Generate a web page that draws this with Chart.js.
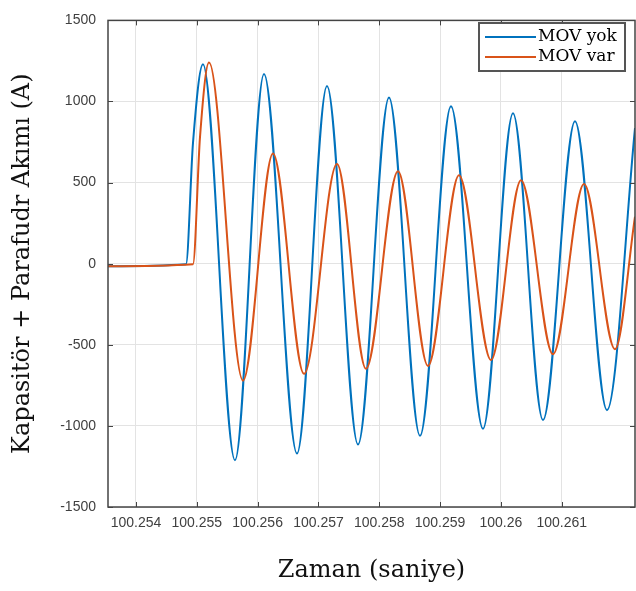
<!DOCTYPE html>
<html>
<head>
<meta charset="utf-8">
<script src="https://cdn.jsdelivr.net/npm/chart.js@4"></script>
<style>
    html, body { margin: 0; padding: 0; background: #fff; }
    #wrap { width: 636px; height: 591px; }
</style>
</head>
<body>
<div id="wrap"><canvas id="chart" width="636" height="591"></canvas></div>
<script>
// time axis (s) and current values (A)
const movYokTime = [100.2535396, 100.2548222, 100.2549373, 100.2551017, 100.2556279, 100.2561048,
    100.2566474, 100.2571407, 100.2576505, 100.2581602, 100.2586700, 100.2591797, 100.2597059,
    100.2601992, 100.2606926, 100.2612187, 100.2617449, 100.2622054];
const movYokValues = [-15, -3, 745, 1230, -1212, 1170, -1170, 1095, -1115, 1024, -1061, 970, -1018,
    927, -964, 879, -903, 836];

const movVarTime = [100.2535396, 100.2549373, 100.2550524, 100.2552004, 100.2557595, 100.2562528,
    100.2567625, 100.2573052, 100.2577820, 100.2583082, 100.2588015, 100.2593113, 100.2598375,
    100.2603308, 100.2608570, 100.2613667, 100.2618765, 100.2622054];
const movVarValues = [-15, -3, 780, 1240, -721, 679, -679, 615, -648, 570, -630, 545, -594,
    515, -558, 491, -527, 290];

const xTickValues = [100.254, 100.255, 100.256, 100.257, 100.258, 100.259, 100.26, 100.261];
const xTickLabels = ['100.254', '100.255', '100.256', '100.257', '100.258', '100.259', '100.26', '100.261'];
const yTickValues = [-1500, -1000, -500, 0, 500, 1000, 1500];

const seriesNames = ['MOV yok', 'MOV var'];
const seriesColors = ['#0072BD', '#D95319'];

const toPoints = (times, values) => times.map((t, i) => ({x: t, y: values[i]}));

// box round the plot, inward ticks and the legend inside the plot
const matlabFrame = {
    id: 'matlabFrame',
    afterDraw(chart) {
        const {ctx, chartArea: a, scales: {x, y}} = chart;
        ctx.save();
        ctx.strokeStyle = '#444';
        ctx.lineWidth = 1;
        ctx.beginPath();
        x.ticks.forEach(t => {
            const px = Math.round(x.getPixelForValue(t.value)) + 0.5;
            ctx.moveTo(px, a.bottom); ctx.lineTo(px, a.bottom - 5);
            ctx.moveTo(px, a.top); ctx.lineTo(px, a.top + 5);
        });
        y.ticks.forEach(t => {
            const py = Math.round(y.getPixelForValue(t.value)) + 0.5;
            ctx.moveTo(a.left, py); ctx.lineTo(a.left + 5, py);
            ctx.moveTo(a.right, py); ctx.lineTo(a.right - 5, py);
        });
        ctx.stroke();
        ctx.lineWidth = 1.5;
        ctx.strokeRect(a.left, a.top, a.right - a.left, a.bottom - a.top);

        // legend
        const lx = 479, ly = 23, lw = 146, lh = 48;
        ctx.fillStyle = '#fff';
        ctx.fillRect(lx, ly, lw, lh);
        ctx.lineWidth = 2;
        ctx.strokeStyle = '#555';
        ctx.strokeRect(lx, ly, lw, lh);
        ctx.font = '17px "DejaVu Serif"';
        ctx.textBaseline = 'middle';
        ctx.textAlign = 'left';
        seriesNames.forEach((name, i) => {
            const rowY = ly + 14 + i * 20;
            ctx.strokeStyle = seriesColors[i];
            ctx.lineWidth = 2;
            ctx.beginPath();
            ctx.moveTo(lx + 6, rowY); ctx.lineTo(lx + 57, rowY);
            ctx.stroke();
            ctx.fillStyle = '#000';
            ctx.fillText(name, lx + 59, rowY);
        });
        ctx.restore();
    }
};

new Chart(document.getElementById('chart'), {
    type: 'line',
    data: {
        datasets: [
            {
                label: seriesNames[0],
                data: toPoints(movYokTime, movYokValues),
                borderColor: seriesColors[0],
                order: 1
            },
            {
                label: seriesNames[1],
                data: toPoints(movVarTime, movVarValues),
                borderColor: seriesColors[1],
                order: 0
            }
        ]
    },
    options: {
        responsive: false,
        animation: false,
        layout: {padding: {top: 10, right: 1, left: 0, bottom: 0}},
        plugins: {
            legend: {display: false},
            tooltip: {enabled: false}
        },
        elements: {
            line: {
                borderWidth: 2,
                cubicInterpolationMode: 'monotone',
                fill: false
            },
            point: {radius: 0}
        },
        scales: {
            x: {
                type: 'linear',
                min: 100.2535396,
                max: 100.2622054,
                afterFit: scale => { scale.height = 84; },
                afterBuildTicks: scale => { scale.ticks = xTickValues.map(v => ({value: v})); },
                border: {display: false},
                grid: {color: '#e3e3e3', drawTicks: false},
                ticks: {
                    padding: 8,
                    maxRotation: 0,
                    autoSkip: false,
                    color: '#404040',
                    font: {family: '"Liberation Sans", Arial', size: 14},
                    callback: (v, i) => xTickLabels[i]
                },
                title: {
                    display: true,
                    text: 'Zaman (saniye)',
                    color: '#111',
                    font: {family: '"DejaVu Serif"', size: 24},
                    padding: {top: 0, bottom: 6}
                }
            },
            y: {
                min: -1500,
                max: 1500,
                afterFit: scale => { scale.width = 108; },
                afterBuildTicks: scale => { scale.ticks = yTickValues.map(v => ({value: v})); },
                border: {display: false},
                grid: {color: '#e3e3e3', drawTicks: false},
                ticks: {
                    padding: 12,
                    color: '#404040',
                    font: {family: '"Liberation Sans", Arial', size: 14},
                    callback: v => String(v)
                },
                title: {
                    display: true,
                    text: 'Kapasitör + Parafudr Akımı (A)',
                    color: '#111',
                    font: {family: '"DejaVu Serif"', size: 24},
                    padding: {top: 8, bottom: 0}
                }
            }
        }
    },
    plugins: [matlabFrame]
});
</script>
</body>
</html>
